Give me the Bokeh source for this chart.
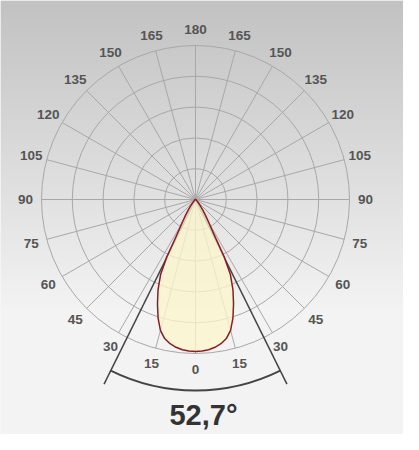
import numpy as np
from bokeh.plotting import figure
from bokeh.models import Range1d, ColumnDataSource
from bokeh.core.properties import value
from bokeh.embed import file_html
from bokeh.resources import INLINE

# ---- data ----
angles_deg = [0, 2.5, 5, 7.5, 10, 12.5, 15, 17.5, 20, 22.5, 25, 26.5, 27.5, 30,
              32.5, 35, 37.5, 40, 45, 50, 60, 70, 90]
intensity = [987, 985, 979, 968, 951, 925, 880, 808, 722, 636, 535, 420, 285, 172,
             118, 80, 52, 34, 15, 6, 2, 0, 0]
ring_values = [200, 400, 600, 800, 1000]
tick_angles = [0, 15, 30, 45, 60, 75, 90, 105, 120, 135, 150, 165, 180]
beam_angle = 52.7

# ---- layout ----
W, H = 403, 434
CX, CY = 203 - 8, 207 - 8          # polar centre in figure pixels
PX_PER_CD = 154 / 1000.0           # radial scale
R = ring_values[-1] * PX_PER_CD
LABEL_R = 170
BEAM_R = 206
ARC_R = 191

p = figure(width=W, height=H, output_backend="svg", toolbar_location=None,
           x_range=Range1d(-CX, W - CX), y_range=Range1d(CY - H, CY),
           min_border=0, match_aspect=False)
p.axis.visible = False
p.grid.visible = False
p.outline_line_color = None
p.background_fill_color = "#f2f2f2"
p.border_fill_color = "#f2f2f2"

# background gradient
n = 200
ys = np.linspace(0, 1, n)  # 0 = top
page_y = 8 + ys * H
g = np.clip(193 + (page_y / 310.0) * (242 - 193), 193, 243)
img = np.zeros((n, 1), dtype=np.uint32)
view = img.view(dtype=np.uint8).reshape((n, 1, 4))
view[:, 0, 0] = g.astype(np.uint8)
view[:, 0, 1] = g.astype(np.uint8)
view[:, 0, 2] = g.astype(np.uint8)
view[:, 0, 3] = 255
img = img[::-1]  # image rows go bottom-up
p.image_rgba(image=[img], x=-CX, y=CY - H, dw=W, dh=H)

def polar(theta_deg, r):
    t = np.radians(theta_deg)
    return r * np.sin(t), -r * np.cos(t)

# rings
for rv in ring_values:
    p.circle(x=0, y=0, radius=rv * PX_PER_CD, fill_alpha=0,
             line_color="#a8a8a8", line_width=1)

# radial grid lines every 15 degrees
spokes = np.arange(0, 360, 15)
sx, sy = polar(spokes, R)
p.segment(x0=0, y0=0, x1=sx, y1=sy, line_color="#a8a8a8", line_width=1)

# beam angle lines + arc
half = beam_angle / 2
bx, by = polar(np.array([-half, half]), BEAM_R)
p.segment(x0=0, y0=0, x1=bx, y1=by, line_color="#444444", line_width=1.5)
p.arc(x=0, y=0, radius=ARC_R,
      start_angle=np.radians(270 - half), end_angle=np.radians(270 + half),
      line_color="#444444", line_width=1.8)

# lobe
a = np.array(angles_deg, dtype=float)
iv = np.array(intensity, dtype=float)
full_a = np.concatenate([-a[::-1], a[1:]])
full_i = np.concatenate([iv[::-1], iv[1:]])
lx, ly = polar(full_a, full_i * PX_PER_CD)
p.patch(x=lx, y=ly, fill_color="#faf5cc", fill_alpha=0.78,
        line_color="#8b1c24", line_width=1.5, line_join="round")

# angle labels
lab_a, lab_t = [], []
for t in tick_angles:
    lab_a.append(t); lab_t.append(str(t))
    if t not in (0, 180):
        lab_a.append(-t); lab_t.append(str(t))
tx, ty = polar(np.array(lab_a, dtype=float), LABEL_R)
src = ColumnDataSource(dict(x=tx, y=ty, t=lab_t))
p.text(x="x", y="y", text="t", source=src, text_align="center",
       text_baseline="middle", text_font=value("Liberation Sans"),
       text_font_style="bold", text_font_size="13.5px", text_color="#555555")

# beam angle text
p.text(x=[8], y=[-215], text=[f"{beam_angle:.1f}".replace(".", ",") + "°"],
       text_align="center", text_baseline="middle",
       text_font=value("Liberation Sans"), text_font_style="bold",
       text_font_size="29px", text_color="#333333")

open("out.html", "w").write(file_html(p, INLINE))
